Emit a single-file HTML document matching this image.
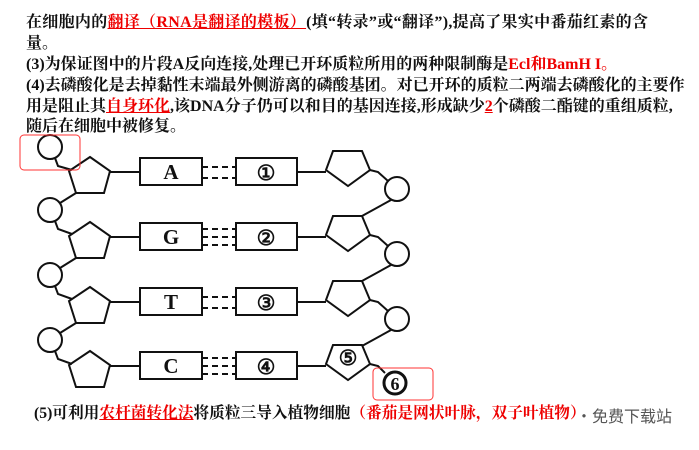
<!DOCTYPE html><html><head><meta charset="utf-8"><style>
body{margin:0;width:699px;height:450px;background:#fff;position:relative;overflow:hidden;font-family:"Liberation Serif","Noto Serif CJK SC","Noto Sans CJK SC",serif;font-weight:bold;font-size:16px;color:#111}
.l{position:absolute;left:26px;white-space:nowrap;line-height:20px}
.r{color:#e00}.u{text-decoration:underline}
</style></head><body>
<div class="l" style="top:13px;letter-spacing:0.3px">在细胞内的<span class="r u">翻译（RNA是翻译的模板）</span>(填“转录”或“翻译”),提高了果实中番茄红素的含</div>
<div class="l" style="top:34px">量。</div>
<div class="l" style="top:55px">(3)为保证图中的片段A反向连接,处理已开环质粒所用的两种限制酶是<span class="r">Ecl和BamH I。</span></div>
<div class="l" style="top:76px">(4)去磷酸化是去掉黏性末端最外侧游离的磷酸基团。对已开环的质粒二两端去磷酸化的主要作</div>
<div class="l" style="top:97px">用是阻止其<span class="r u">自身环化</span>,该DNA分子仍可以和目的基因连接,形成缺少<span class="r u">2</span>个磷酸二酯键的重组质粒,</div>
<div class="l" style="top:117px">随后在细胞中被修复。</div>
<div class="l" style="top:404px;left:34px;font-size:15.7px">(5)可利用<span class="r u">农杆菌转化法</span>将质粒三导入植物细胞<span class="r">（番茄是网状叶脉，双子叶植物）</span></div>
<div style="position:absolute;left:576px;top:403px;font:16px 'Noto Sans CJK SC',sans-serif;color:#555">•免费下载站</div>
<svg width="699" height="450" style="position:absolute;left:0;top:0" fill="none" stroke="#111" stroke-width="2">
<g id="row">
<polygon points="90,157 110,171 104,193 76,193 69,171" fill="#fff"/>
<line x1="110" y1="172" x2="140" y2="172"/>
<rect x="140" y="158" width="62" height="27" fill="#fff"/>
<rect x="236" y="158" width="61" height="27" fill="#fff"/>
<line x1="297" y1="172" x2="326" y2="172"/>
<polygon points="333,151 362,151 370,170 348,186 326,170" fill="#fff"/>
</g>
<use href="#row" y="65"/><use href="#row" y="130"/><use href="#row" y="194"/>
<g stroke-dasharray="6,4">
<line x1="202" y1="167" x2="236" y2="167"/><line x1="202" y1="178" x2="236" y2="178"/>
<line x1="202" y1="229" x2="236" y2="229"/><line x1="202" y1="237" x2="236" y2="237"/><line x1="202" y1="245" x2="236" y2="245"/>
<line x1="202" y1="297" x2="236" y2="297"/><line x1="202" y1="308" x2="236" y2="308"/>
<line x1="202" y1="358" x2="236" y2="358"/><line x1="202" y1="366" x2="236" y2="366"/><line x1="202" y1="374" x2="236" y2="374"/>
</g>
<circle cx="50" cy="147" r="12"/><path d="M55,158 L58,166 L72,170"/>
<g id="lc"><circle cx="50" cy="210" r="12"/><path d="M76,193 L60,203"/><path d="M55,221 L58,229 L72,234"/></g>
<use href="#lc" y="65"/><use href="#lc" y="130"/>
<g id="rc"><circle cx="397" cy="189" r="12"/><path d="M370,170 L378,172 L388,181"/><path d="M391,200 L362,216"/></g>
<use href="#rc" y="65"/><use href="#rc" y="130"/>
<path d="M370,364 L378,366 L385,373"/>
<circle cx="395" cy="383" r="11" stroke-width="3"/>
<rect x="20" y="135" width="60" height="35" rx="4" stroke="#f33" stroke-width="1"/>
<rect x="373" y="368" width="60" height="32" rx="4" stroke="#f33" stroke-width="1"/>
<g fill="#111" stroke="none" font-family="Liberation Serif,serif" font-size="21" text-anchor="middle">
<text x="171" y="179">A</text><text x="171" y="244">G</text><text x="171" y="309">T</text><text x="171" y="373">C</text>
<text x="266" y="180">①</text><text x="266" y="245">②</text><text x="266" y="310">③</text><text x="266" y="374">④</text>
<text x="348" y="365">⑤</text><text x="395" y="390" font-size="18">6</text>
</g>
</svg>
</body></html>
